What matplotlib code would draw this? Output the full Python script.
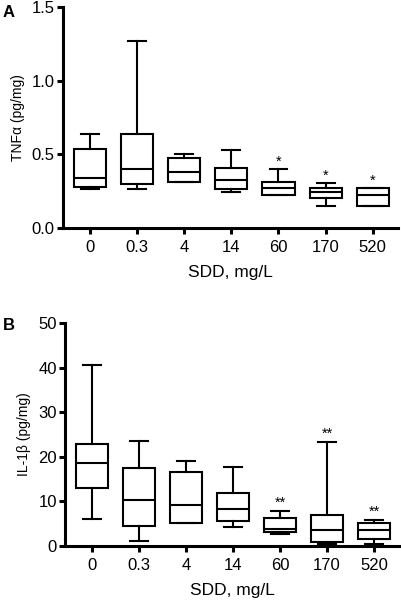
import matplotlib
matplotlib.use("Agg")
import matplotlib.pyplot as plt

plt.rcParams["font.family"] = ["Liberation Sans", "DejaVu Sans"]

doses = ["0", "0.3", "4", "14", "60", "170", "520"]

# panel A - TNFa (pg/mg)
tnf_lo  = [0.268, 0.268, 0.309, 0.241, 0.221, 0.149, 0.149]
tnf_q1  = [0.275, 0.300, 0.309, 0.266, 0.221, 0.203, 0.149]
tnf_med = [0.338, 0.400, 0.379, 0.327, 0.271, 0.244, 0.221]
tnf_q3  = [0.535, 0.638, 0.478, 0.404, 0.309, 0.271, 0.271]
tnf_hi  = [0.638, 1.270, 0.500, 0.530, 0.400, 0.305, 0.271]
tnf_sig = ["", "", "", "", "*", "*", "*"]

# panel B - IL-1b (pg/mg)
il_lo  = [6.0, 1.1, 5.0, 4.3, 2.6, 0.3, 0.3]
il_q1  = [13.0, 4.5, 5.2, 5.5, 3.1, 0.9, 1.5]
il_med = [18.6, 10.3, 9.1, 8.3, 3.7, 3.5, 3.5]
il_q3  = [22.9, 17.5, 16.5, 11.8, 6.2, 7.0, 5.2]
il_hi  = [40.6, 23.5, 19.1, 17.6, 7.7, 23.3, 5.8]
il_sig = ["", "", "", "", "**", "**", "**"]

LW = 1.5


def panel(ax, lo, q1, med, q3, hi, sig, ylim, yticks, yfmt, ylabel, star_off):
    stats = [dict(whislo=a, q1=b, med=c, q3=d, whishi=e, fliers=[])
             for a, b, c, d, e in zip(lo, q1, med, q3, hi)]
    pos = list(range(len(stats)))
    ax.bxp(stats, positions=pos, widths=0.68, capwidths=0.38, patch_artist=True,
           boxprops=dict(facecolor="white", edgecolor="black", linewidth=LW),
           medianprops=dict(color="black", linewidth=LW),
           whiskerprops=dict(color="black", linewidth=LW),
           capprops=dict(color="black", linewidth=LW))
    for p, h, s in zip(pos, hi, sig):
        if s:
            ax.text(p, h + star_off, s, ha="center", va="bottom", fontsize=10.5)
    ax.set_xlim(-0.57, 6.53)
    ax.set_ylim(*ylim)
    ax.set_yticks(yticks)
    ax.set_yticklabels([yfmt.format(t) for t in yticks])
    ax.set_xticks(pos)
    ax.set_xticklabels(doses)
    ax.spines[["top", "right"]].set_visible(False)
    ax.spines[["left", "bottom"]].set_linewidth(2.2)
    ax.tick_params(axis="both", width=2.2, length=4, labelsize=12)
    ax.tick_params(axis="x", pad=5)
    ax.tick_params(axis="y", pad=2)
    ax.set_ylabel(ylabel, fontsize=10, labelpad=5)
    ax.set_xlabel("SDD, mg/L", fontsize=12.5, labelpad=7)


fig = plt.figure(figsize=(4.01, 6.03), dpi=100)
axA = fig.add_axes([0.157, 0.622, 0.835, 0.366])
axB = fig.add_axes([0.163, 0.095, 0.832, 0.369])

panel(axA, tnf_lo, tnf_q1, tnf_med, tnf_q3, tnf_hi, tnf_sig,
      (0, 1.5), [0, 0.5, 1.0, 1.5], "{:.1f}", "TNFα (pg/mg)", 0.005)
panel(axB, il_lo, il_q1, il_med, il_q3, il_hi, il_sig,
      (0, 50), [0, 10, 20, 30, 40, 50], "{:.0f}", "IL-1β (pg/mg)", 0.3)

fig.text(0.021, 0.980, "A", fontsize=12, fontweight="bold", ha="center", va="center")
fig.text(0.023, 0.461, "B", fontsize=12, fontweight="bold", ha="center", va="center")

fig.savefig("out.png", dpi=100)
